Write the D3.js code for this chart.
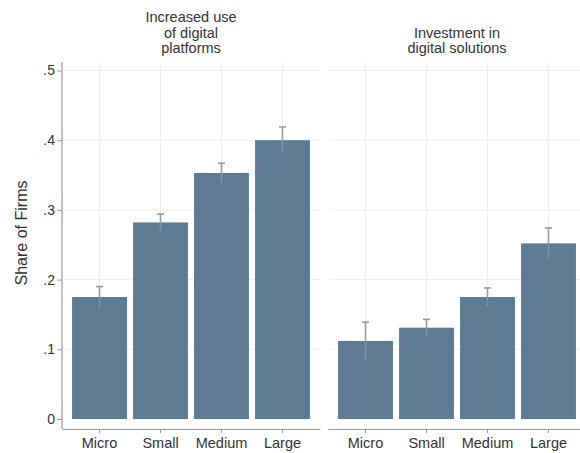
<!DOCTYPE html>
<html>
<head>
<meta charset="utf-8">
<script src="https://d3js.org/d3.v7.min.js"></script>
<style>
  body { margin: 0; background: #fff; }
  text { font-family: "Liberation Sans", Arial, sans-serif; fill: #333; }
</style>
</head>
<body>
<script>
var sizes = ["Micro", "Small", "Medium", "Large"];
var panelTitles = [["Increased use", "of digital", "platforms"], ["Investment in", "digital solutions"]];
var platformsMean = [0.175, 0.282, 0.353, 0.400];
var platformsHi   = [0.190, 0.294, 0.367, 0.419];
var solutionsMean = [0.112, 0.131, 0.175, 0.252];
var solutionsHi   = [0.139, 0.143, 0.188, 0.274];
var yTicks = [0, 0.1, 0.2, 0.3, 0.4, 0.5];

var W = 580, H = 453;
var barColor = "#5d7b93";
var font = "\"Liberation Sans\", Arial, sans-serif";

var svg = d3.select("body").append("svg")
    .attr("width", W)
    .attr("height", H);

var y = d3.scaleLinear().domain([0, 0.5]).range([419, 70.5]);
var plotTop = 62, axisY = 429;

var panels = [
  {title: panelTitles[0], mean: platformsMean, hi: platformsHi, range: [62, 320], center: 191},
  {title: panelTitles[1], mean: solutionsMean, hi: solutionsHi, range: [328, 586], center: 457}
];

panels.forEach(function(p) {
  var x = d3.scaleBand().domain(sizes).range(p.range).paddingInner(0.1).paddingOuter(0.165);
  var g = svg.append("g");

  // gridlines
  g.selectAll(".hgrid").data(yTicks.slice(1)).enter().append("line")
      .attr("x1", p.range[0] + 2).attr("x2", Math.min(p.range[1], W))
      .attr("y1", function(d) { return y(d); }).attr("y2", function(d) { return y(d); })
      .attr("stroke", "#ededed").attr("stroke-width", 1);
  g.selectAll(".vgrid").data(sizes).enter().append("line")
      .attr("x1", function(d) { return x(d) + x.bandwidth() / 2; })
      .attr("x2", function(d) { return x(d) + x.bandwidth() / 2; })
      .attr("y1", plotTop).attr("y2", 419)
      .attr("stroke", "#ededed").attr("stroke-width", 1);

  var data = sizes.map(function(s, i) { return {k: s, m: p.mean[i], hi: p.hi[i], lo: 2 * p.mean[i] - p.hi[i]}; });

  g.selectAll("rect").data(data).enter().append("rect")
      .attr("x", function(d) { return x(d.k); })
      .attr("width", x.bandwidth())
      .attr("y", function(d) { return y(d.m); })
      .attr("height", function(d) { return y(0) - y(d.m); })
      .attr("fill", barColor);

  // error bars
  var cx = function(d) { return x(d.k) + x.bandwidth() / 2; };
  g.selectAll(".err").data(data).enter().append("line")
      .attr("x1", cx).attr("x2", cx)
      .attr("y1", function(d) { return y(d.hi); }).attr("y2", function(d) { return y(d.m); })
      .attr("stroke", "#9a9a9a").attr("stroke-width", 1.6);
  g.selectAll(".errlo").data(data).enter().append("line")
      .attr("x1", cx).attr("x2", cx)
      .attr("y1", function(d) { return y(d.m); }).attr("y2", function(d) { return y(d.lo); })
      .attr("stroke", "#7d94a6").attr("stroke-width", 1.6);
  g.selectAll(".cap").data(data).enter().append("line")
      .attr("x1", function(d) { return cx(d) - 3.5; }).attr("x2", function(d) { return cx(d) + 3.5; })
      .attr("y1", function(d) { return y(d.hi); }).attr("y2", function(d) { return y(d.hi); })
      .attr("stroke", "#9a9a9a").attr("stroke-width", 1.6);

  // x axis
  var xAxis = g.append("g")
      .attr("transform", "translate(0," + axisY + ")")
      .call(d3.axisBottom(x).tickSize(4).tickPadding(5).tickSizeOuter(0));
  xAxis.select(".domain").attr("stroke", "#999").attr("stroke-width", 1.2);
  xAxis.selectAll(".tick line").attr("stroke", "#999");
  xAxis.selectAll("text").attr("font-size", 14.5).attr("fill", "#333").attr("font-family", font);

  // title
  var nLines = p.title.length;
  g.append("text")
      .attr("text-anchor", "middle")
      .attr("font-size", 14.5)
      .selectAll("tspan").data(p.title).enter().append("tspan")
      .attr("x", p.center)
      .attr("y", function(d, i) { return 53 - (nLines - 1 - i) * 15.5; })
      .text(function(d) { return d; });
});

// y axis
var yAxis = svg.append("g")
    .attr("transform", "translate(62,0)")
    .call(d3.axisLeft(y).tickValues(yTicks).tickSize(5).tickPadding(2).tickSizeOuter(0)
      .tickFormat(function(d) { return d === 0 ? "0" : d3.format(".1f")(d).replace(/^0/, ""); }));
yAxis.select(".domain").attr("d", "M0," + plotTop + "V" + axisY).attr("stroke", "#999").attr("stroke-width", 1.2);
yAxis.selectAll(".tick line").attr("stroke", "#999");
yAxis.selectAll("text").attr("font-size", 14).attr("fill", "#333").attr("font-family", font);

svg.append("text")
    .attr("transform", "translate(27,233) rotate(-90)")
    .attr("text-anchor", "middle")
    .attr("font-size", 16)
    .text("Share of Firms");
</script>
</body>
</html>
